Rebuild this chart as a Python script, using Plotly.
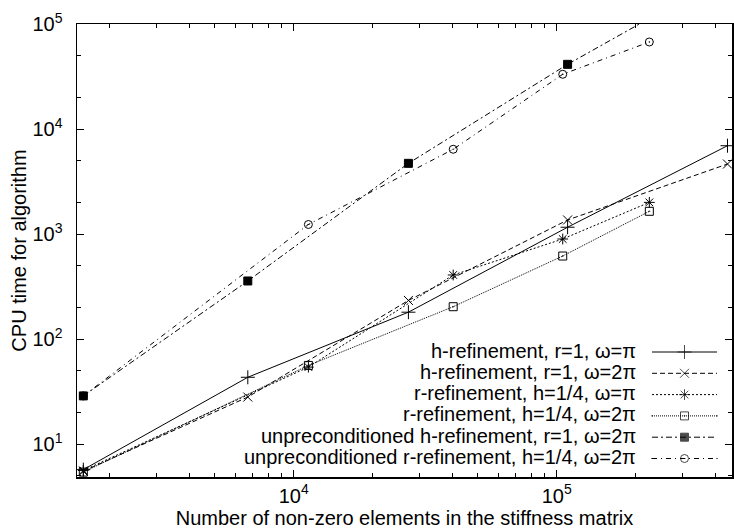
import plotly.graph_objects as go

# ---- data ----
x_h = [1585, 6690, 27300, 110000, 446000]          # h-refinement problem sizes (nnz)
x_r = [1585, 11370, 40400, 105400, 225000]         # r-refinement problem sizes (nnz)

h_r1_pi = [5.7, 43.2, 180, 1160, 6930]
h_r1_2pi = [5.5, 28.0, 233, 1360, 4640]
r_h14_pi = [5.6, 54, 407, 896, 2000]
r_h14_2pi = [5.4, 56, 203, 617, 1645]
unpre_h_r1_2pi = [28.7, 357, 4710, 41300, 296000]
unpre_r_h14_2pi = [28.7, 1232, 6410, 33200, 67400]

labels = [
    "h-refinement, r=1, ω=π",
    "h-refinement, r=1, ω=2π",
    "r-refinement, h=1/4, ω=π",
    "r-refinement, h=1/4, ω=2π",
    "unpreconditioned h-refinement, r=1, ω=2π",
    "unpreconditioned r-refinement, h=1/4, ω=2π",
]

x_tick_vals = [1e4, 1e5]
x_tick_text = ["10<sup>4</sup>", "10<sup>5</sup>"]
y_tick_vals = [1e1, 1e2, 1e3, 1e4, 1e5]
y_tick_text = ["10<sup>1</sup>", "10<sup>2</sup>", "10<sup>3</sup>",
               "10<sup>4</sup>", "10<sup>5</sup>"]

# ---- styles ----
FONT = "Liberation Sans, Arial, sans-serif"
series = [
    (x_h, h_r1_pi, "solid", "cross-thin-open", 10),
    (x_h, h_r1_2pi, "5px,3px", "x-thin-open", 9),
    (x_r, r_h14_pi, "2px,2px", "asterisk-open", 9),
    (x_r, r_h14_2pi, "1px,1px", "square-open-dot", 8),
    (x_h, unpre_h_r1_2pi, "6px,3px,2px,3px", "square", 8),
    (x_r, unpre_r_h14_2pi, "5px,4px,1px,4px", "circle-open-dot", 8),
]

fig = go.Figure()
for (xs, ys, dash, sym, size), name in zip(series, labels):
    fig.add_trace(go.Scatter(
        x=xs, y=ys, mode="lines+markers", name=name, showlegend=False,
        line=dict(color="black", width=1, dash=dash),
        marker=dict(symbol=sym, size=size, color="black",
                    line=dict(color="black", width=1)),
    ))

# ---- custom gnuplot-style key (text right-aligned, sample on the right) ----
key_text_right = 638
key_x0, key_x1 = 652, 717
key_rows = [352, 373.3, 394.6, 415.9, 437.2, 458.5]
for (xs, ys, dash, sym, size), name, ky in zip(series, labels, key_rows):
    fig.add_trace(go.Scatter(
        x=[key_x0, (key_x0 + key_x1) / 2, key_x1], y=[ky, ky, ky],
        xaxis="x2", yaxis="y2", mode="lines+markers", showlegend=False,
        hoverinfo="skip",
        line=dict(color="black", width=1, dash=dash),
        marker=dict(symbol=sym, size=[0, size, 0], color="black",
                    line=dict(color="black", width=1)),
    ))
    fig.add_annotation(
        x=key_text_right, y=ky - 1.5, xref="x2", yref="y2", text=name,
        showarrow=False, xanchor="right", yanchor="middle",
        font=dict(family=FONT, size=20, color="black"),
    )

def minor_vals(lo_exp, hi_exp, mults):
    return [m * 10 ** e for e in range(lo_exp, hi_exp + 1) for m in mults]

axis_common = dict(
    type="log", showline=True, linecolor="black", linewidth=1.5,
    mirror="allticks", ticks="inside", ticklen=7, tickwidth=1, tickcolor="black",
    showgrid=False, zeroline=False, automargin=False, tickmode="array",
    tickfont=dict(family=FONT, size=20, color="black"),
)

fig.update_layout(
    width=734, height=529,
    margin=dict(l=77, r=2, t=24, b=52),
    paper_bgcolor="white", plot_bgcolor="white",
    font=dict(family=FONT, size=20, color="black"),
    xaxis=dict(
        **axis_common, range=[3.176, 5.6665],
        tickvals=x_tick_vals, ticktext=x_tick_text, ticklabelstandoff=0,
        minor=dict(ticks="inside", ticklen=4, tickwidth=1, tickcolor="black",
                   tickvals=minor_vals(3, 5, [2, 3, 4, 5, 6, 7, 8, 9])),
        title=dict(text="Number of non-zero elements in the stiffness matrix",
                   font=dict(family=FONT, size=20, color="black"), standoff=0),
    ),
    yaxis=dict(
        **axis_common, range=[0.6857, 5.0],
        tickvals=y_tick_vals, ticktext=y_tick_text, ticklabelstandoff=9,
        minor=dict(ticks="inside", ticklen=4, tickwidth=1, tickcolor="black",
                   tickvals=minor_vals(0, 4, [2, 5])),
        title=dict(text="CPU time for algorithm",
                   font=dict(family=FONT, size=20, color="black"), standoff=0),
    ),
    xaxis2=dict(overlaying="x", range=[77, 732], visible=False),
    yaxis2=dict(overlaying="y", range=[477, 24], visible=False),
    showlegend=False,
)

fig.write_html(
    "out.html",
    config={"displayModeBar": False, "staticPlot": True},
    post_script="document.body.style.margin='0';document.body.style.overflow='hidden';",
)
